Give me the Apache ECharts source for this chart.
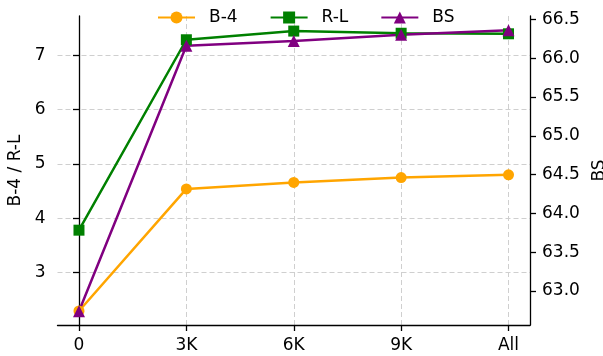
<!DOCTYPE html>
<html>
<head>
<meta charset="utf-8">
<script src="https://cdn.jsdelivr.net/npm/echarts@6/dist/echarts.min.js"></script>
<style>html,body{margin:0;padding:0;background:#fff}#c{width:603px;height:356px}</style>
</head>
<body>
<div id="c"></div>
<script>
var categories = ['0', '3K', '6K', '9K', 'All'];
var b4 = [2.29, 4.54, 4.66, 4.75, 4.80];
var rl = [3.78, 7.29, 7.45, 7.41, 7.40];
var bs = [62.74, 66.16, 66.22, 66.30, 66.36];
var leftTicks = [3, 4, 5, 6, 7];
var rightTicks = [63.0, 63.5, 64.0, 64.5, 65.0, 65.5, 66.0, 66.5];
var xTicks = [0, 1, 2, 3, 4];

var FONT = 'DejaVu Sans';
var FS = 17;
function pts(arr) { return arr.map(function (v, i) { return [i, v]; }); }

var chart = echarts.init(document.getElementById('c'));
var axisLine = { show: true, lineStyle: { color: '#000', width: 1.3 } };
var gridLine = { show: true, lineStyle: { color: '#cfcfcf', width: 1, type: [5, 3] } };

chart.setOption({
  animation: false,
  backgroundColor: '#fff',
  grid: { left: 57.5, right: 73, top: 16, bottom: 31, outerBoundsMode: 'none', containLabel: false },
  legend: {
    left: 152, top: 4, itemWidth: 37, itemHeight: 15, itemGap: 32,
    textStyle: { fontFamily: FONT, fontSize: FS, color: '#000', padding: [0, 0, 0, 9] },
    data: ['B-4', 'R-L', 'BS']
  },
  xAxis: {
    type: 'value', min: -0.2, max: 4.2,
    axisLine: axisLine,
    axisTick: { show: true, length: 6, lineStyle: { color: '#000', width: 1.3 }, customValues: xTicks },
    axisLabel: { customValues: xTicks, margin: 12, fontFamily: FONT, fontSize: FS, color: '#000',
      formatter: function (v) { return categories[Math.round(v)]; } },
    splitLine: gridLine
  },
  yAxis: [{
    type: 'value', min: 2.032, max: 7.728, position: 'left',
    name: 'B-4 / R-L', nameLocation: 'middle', nameGap: 28,
    nameTextStyle: { fontFamily: FONT, fontSize: FS, color: '#000' },
    axisLine: axisLine,
    axisTick: { show: true, length: 6, lineStyle: { color: '#000', width: 1.3 }, customValues: leftTicks },
    axisLabel: { customValues: leftTicks, margin: 12, fontFamily: FONT, fontSize: FS, color: '#000' },
    splitLine: gridLine
  }, {
    type: 'value', min: 62.562, max: 66.543, position: 'right',
    name: 'BS', nameLocation: 'middle', nameGap: 58,
    nameTextStyle: { fontFamily: FONT, fontSize: FS, color: '#000' },
    axisLine: axisLine,
    axisTick: { show: true, length: 6, lineStyle: { color: '#000', width: 1.3 }, customValues: rightTicks },
    axisLabel: { customValues: rightTicks, margin: 12, fontFamily: FONT, fontSize: FS, color: '#000',
      formatter: function (v) { return v.toFixed(1); } },
    splitLine: { show: false }
  }],
  series: [{
    name: 'B-4', type: 'line', yAxisIndex: 0, data: pts(b4),
    symbol: 'circle', symbolSize: 11, color: '#FFA500',
    lineStyle: { width: 2.5, color: '#FFA500' }, itemStyle: { color: '#FFA500' }
  }, {
    name: 'R-L', type: 'line', yAxisIndex: 0, data: pts(rl),
    symbol: 'rect', symbolSize: 11, color: '#008000',
    lineStyle: { width: 2.5, color: '#008000' }, itemStyle: { color: '#008000' }
  }, {
    name: 'BS', type: 'line', yAxisIndex: 1, data: pts(bs),
    symbol: 'triangle', symbolSize: 12, color: '#800080',
    lineStyle: { width: 2.5, color: '#800080' }, itemStyle: { color: '#800080' }
  }]
});
</script>
</body>
</html>
